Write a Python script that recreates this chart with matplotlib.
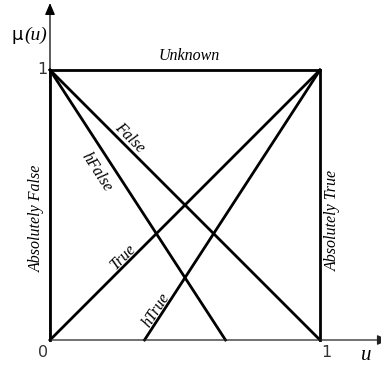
import numpy as np
import matplotlib
matplotlib.use("Agg")
import matplotlib.pyplot as plt

# Membership functions: breakpoints (u, mu) of each truth value
unknown_u, unknown_mu = [0.0, 1.0], [1.0, 1.0]
abs_false_u, abs_false_mu = [0.0, 0.0], [0.0, 1.0]
abs_true_u, abs_true_mu = [1.0, 1.0], [0.0, 1.0]
false_u, false_mu = [0.0, 1.0], [1.0, 0.0]
true_u, true_mu = [0.0, 1.0], [0.0, 1.0]
hfalse_u, hfalse_mu = [0.0, 0.65], [1.0, 0.0]
htrue_u, htrue_mu = [0.35, 1.0], [0.0, 1.0]

tick_values = [0, 1]
tick_labels = ["0", "1"]

W, H = 381, 368
fig = plt.figure(figsize=(W / 100, H / 100), dpi=100)
ax = fig.add_axes([0, 0, 1, 1])
ax.set_xlim(-50 / 270, 331 / 270)
ax.set_ylim(-28 / 270, 340 / 270)
ax.axis("off")

serif = dict(family="Liberation Serif", style="italic")
LW = 2.0

# axes with arrow heads
ax.annotate("", xy=(1.255, 0), xytext=(0, 0),
            arrowprops=dict(arrowstyle="-|>,head_length=0.7,head_width=0.3",
                            lw=0.9, color="#222222", shrinkA=0, shrinkB=0),
            annotation_clip=False)
ax.annotate("", xy=(0, 1.248), xytext=(0, 0),
            arrowprops=dict(arrowstyle="-|>,head_length=0.7,head_width=0.3",
                            lw=0.9, color="black", shrinkA=0, shrinkB=0),
            annotation_clip=False)

for u, m in [(unknown_u, unknown_mu), (abs_false_u, abs_false_mu),
             (abs_true_u, abs_true_mu), (false_u, false_mu), (true_u, true_mu),
             (hfalse_u, hfalse_mu), (htrue_u, htrue_mu)]:
    ax.plot(u, m, color="black", lw=LW, solid_capstyle="projecting")


def slope_deg(u, m):
    return np.degrees(np.arctan2(m[1] - m[0], u[1] - u[0]))


fs = 11.5
ax.text(0.515, 1.052, "Unknown", ha="center", va="center", fontsize=fs, **serif)
ax.text(0.296, 0.748, "False", ha="center", va="center", fontsize=fs,
        rotation=slope_deg(false_u, false_mu), rotation_mode="anchor", **serif)
ax.text(0.174, 0.622, "hFalse", ha="center", va="center", fontsize=fs,
        rotation=slope_deg(hfalse_u, hfalse_mu), rotation_mode="anchor", **serif)
ax.text(0.272, 0.307, "True", ha="center", va="center", fontsize=fs,
        rotation=slope_deg(true_u, true_mu), rotation_mode="anchor", **serif)
ax.text(0.393, 0.111, "hTrue", ha="center", va="center", fontsize=fs,
        rotation=slope_deg(htrue_u, htrue_mu), rotation_mode="anchor", **serif)
ax.text(-0.048, 0.452, "Absolutely False", ha="center", va="center",
        fontsize=fs, rotation=90, **serif)
ax.text(1.048, 0.441, "Absolutely True", ha="center", va="center",
        fontsize=fs, rotation=90, **serif)

# tick labels
tick_color = "#333333"
ax.text(-0.025, tick_values[0] - 0.048, tick_labels[0], ha="center", va="center",
        fontsize=11.5, color=tick_color)
ax.text(1.025, tick_values[0] - 0.048, tick_labels[1], ha="center", va="center",
        fontsize=11.5, color=tick_color)
ax.text(-0.027, tick_values[1], tick_labels[1], ha="center", va="center",
        fontsize=11.5, color=tick_color)

# axis titles
ax.text(1.17, -0.058, "u", ha="center", va="center", fontsize=15, **serif)
ax.text(-0.123, 1.13, "μ", ha="center", va="center", fontsize=13)
ax.text(-0.053, 1.13, "(u)", ha="center", va="center", fontsize=14, **serif)

fig.savefig("out.png", dpi=100)
